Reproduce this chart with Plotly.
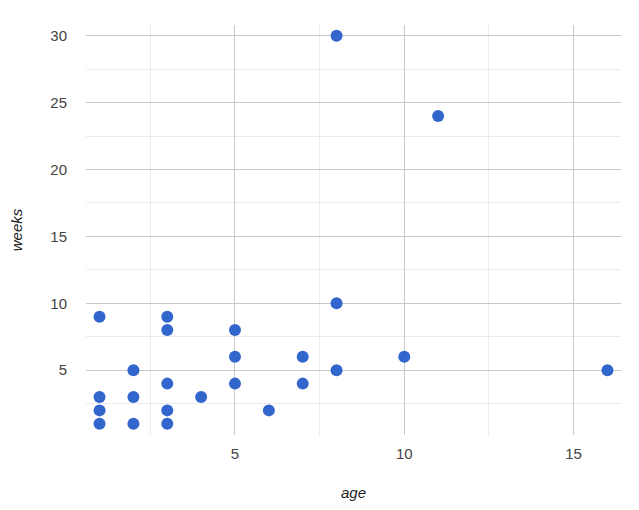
import plotly.graph_objects as go

age = [1, 1, 1, 1, 2, 2, 2, 3, 3, 3, 3, 3, 4, 5, 5, 5, 6, 7, 7, 8, 8, 8, 10, 11, 16]
weeks = [9, 3, 2, 1, 5, 3, 1, 9, 8, 4, 2, 1, 3, 8, 6, 4, 2, 6, 4, 30, 10, 5, 6, 24, 5]

fig = go.Figure()

fig.add_trace(
    go.Scatter(
        x=age,
        y=weeks,
        mode='markers',
        marker=dict(color='#3366cc', size=12),
        hoverinfo='x+y',
    )
)

axis_font = dict(family='Liberation Sans, Arial', size=15, color='#444444')
title_font = dict(family='Liberation Sans, Arial', size=15, color='#222222')

# page body adds 8px margin on each side, so keep the figure inside the window
fig.update_layout(
    width=623,
    height=494,
    margin=dict(l=78, r=10, t=17, b=67),
    plot_bgcolor='white',
    paper_bgcolor='white',
    showlegend=False,
    xaxis=dict(
        range=[0.6, 16.4],
        tickvals=[5, 10, 15],
        gridcolor='#c8c8c8',
        gridwidth=1,
        zeroline=False,
        showline=False,
        automargin=False,
        tickfont=axis_font,
        ticklabelstandoff=8,
        minor=dict(tickvals=[2.5, 7.5, 12.5], showgrid=True, gridcolor='#ebebeb', gridwidth=1),
        title=dict(text='<i>age</i>', font=title_font, standoff=26),
    ),
    yaxis=dict(
        range=[0.16, 30.8],
        tickvals=[5, 10, 15, 20, 25, 30],
        gridcolor='#c8c8c8',
        gridwidth=1,
        zeroline=False,
        showline=False,
        automargin=False,
        tickfont=axis_font,
        ticklabelstandoff=18,
        minor=dict(tickvals=[2.5, 7.5, 12.5, 17.5, 22.5, 27.5], showgrid=True, gridcolor='#ebebeb', gridwidth=1),
        title=dict(text='<i>weeks</i>', font=title_font, standoff=28),
    ),
)

fig.write_html('out.html')
